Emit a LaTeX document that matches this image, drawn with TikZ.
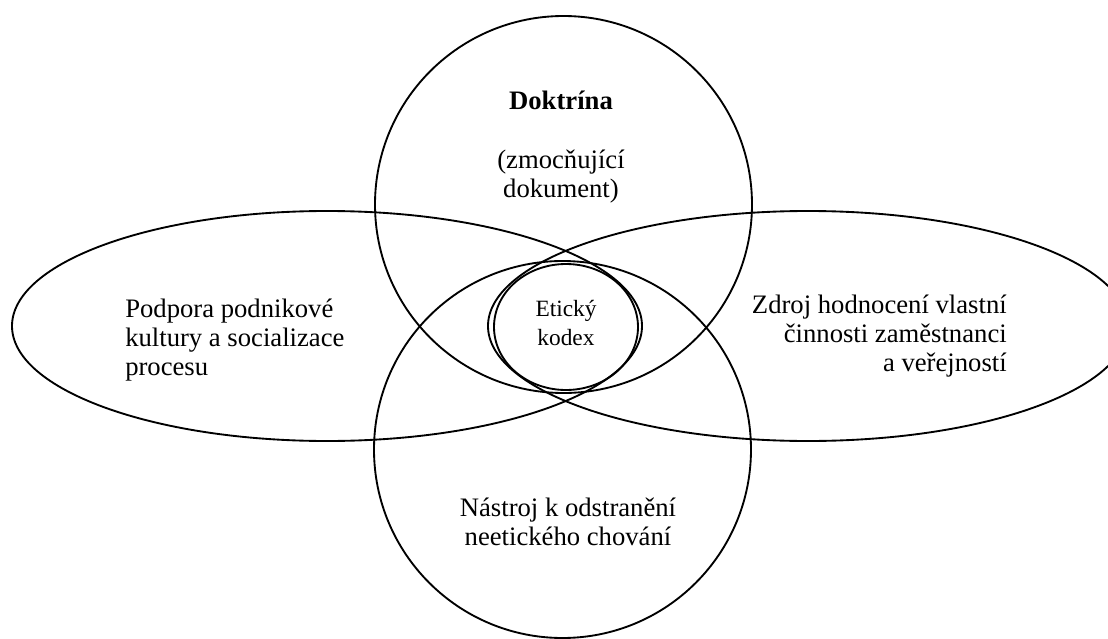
\documentclass[tikz,border=0pt]{standalone}
\usepackage{fontspec}
\setmainfont{Liberation Serif}
\usepackage{tikz}

\tikzset{
  ring/.style={line width=1.4pt, black},
  label/.style={inner sep=0pt, font=\fontsize{20}{22}\selectfont},
  small label/.style={inner sep=0pt, font=\fontsize{17.5}{21.5}\selectfont}
}

\begin{document}
\begin{tikzpicture}[x=0.75pt, y=-0.75pt]
\useasboundingbox (0,0) rectangle (1108,639);
\draw[ring] (563.5,204.5) circle (188.5);
\draw[ring] (562.5,449.5) circle (188.5);
\draw[ring] (327,326) ellipse (315 and 115);
\draw[ring] (808,326) ellipse (320 and 115);
\draw[ring] (566,327) ellipse (72 and 63);
\node[label, align=center] (doktrina) at (561,147) {\textbf{Doktrína}\\[22pt] (zmocňující\\ dokument)};
\node[label, align=left, anchor=west] (podpora) at (125,340) {Podpora podnikové\\ kultury a socializace\\ procesu};
\node[label, align=right, anchor=east] (zdroj) at (1007,336) {Zdroj hodnocení vlastní\\ činnosti zaměstnanci\\ a veřejností};
\node[label, align=center] (nastroj) at (568,522) {Nástroj k odstranění\\ neetického chování};
\node[small label, align=center] (kodex) at (566,323) {Etický\\ kodex};
\end{tikzpicture}
\end{document}
